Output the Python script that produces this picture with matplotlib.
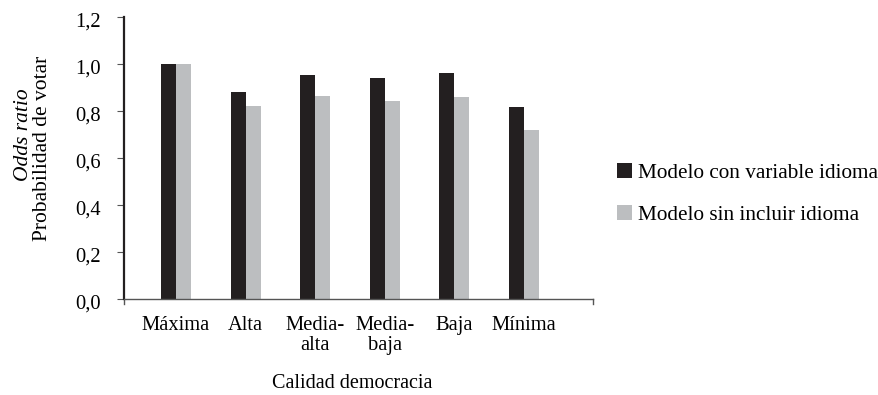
import matplotlib
matplotlib.use("Agg")
import matplotlib.pyplot as plt
import matplotlib.transforms as mtransforms
from matplotlib.patches import Patch
import numpy as np

categories = ["Máxima", "Alta", "Media-\nalta", "Media-\nbaja", "Baja", "Mínima"]
con_idioma = [1.00, 0.88, 0.953, 0.940, 0.962, 0.817]
sin_idioma = [1.00, 0.821, 0.864, 0.843, 0.860, 0.719]
series_labels = ["Modelo con variable idioma", "Modelo sin incluir idioma"]
yticks = [0.0, 0.2, 0.4, 0.6, 0.8, 1.0, 1.2]

dark = "#231f20"
light = "#bcbec0"

plt.rcParams["font.family"] = ["Liberation Serif", "DejaVu Serif"]

fig = plt.figure(figsize=(8.79, 3.95), dpi=100)
W, H = 879, 395
ax = fig.add_axes([124 / W, 1 - 299 / H, (593 - 124) / W, (299 - 17) / H])

x = np.arange(len(categories))
bw = 0.215
ax.bar(x - bw / 2, con_idioma, width=bw, color=dark)
ax.bar(x + bw / 2, sin_idioma, width=bw, color=light)

ax.set_xlim(-0.747, 5.99)
ax.set_ylim(0, 1.2)
ax.set_yticks(yticks)
ax.set_yticklabels([f"{v:.1f}".replace(".", ",") for v in yticks], fontsize=14.8)
ax.set_xticks(x)
ax.set_xticklabels(categories, fontsize=14.8, linespacing=1.1)
ax.tick_params(axis="x", length=0, pad=12)
ax.tick_params(axis="y", length=5, width=0.8, color="#555555", pad=12)

# nudge the value labels slightly below their ticks
shift = mtransforms.ScaledTranslation(0, -3 / 100, fig.dpi_scale_trans)
for lab in ax.get_yticklabels():
    lab.set_transform(lab.get_transform() + shift)

for s in ["top", "right"]:
    ax.spines[s].set_visible(False)
ax.spines["left"].set_linewidth(1.6)
ax.spines["left"].set_color(dark)
ax.spines["bottom"].set_linewidth(1.0)
ax.spines["bottom"].set_color("#555555")

# end ticks on the category axis
for xe in ax.get_xlim():
    ax.plot([xe, xe], [0, -0.02], color="#555555", lw=1.0, clip_on=False)

fig.text(352 / W, 1 - 383 / H, "Calidad democracia", ha="center", va="center", fontsize=14.5)
fig.text(24 / W, 1 - 135 / H, "Odds ratio", ha="center", va="center",
         rotation=90, fontsize=15.5, style="italic")
fig.text(43 / W, 1 - 148 / H, "Probabilidad de votar", ha="center", va="center",
         rotation=90, fontsize=15.5)

handles = [Patch(facecolor=dark), Patch(facecolor=light)]
fig.legend(handles, series_labels, loc="center left",
           bbox_to_anchor=(617 / W, 1 - 194 / H), frameon=False, fontsize=15.3,
           handlelength=0.72, handleheight=0.72, handletextpad=0.25,
           labelspacing=1.05, borderaxespad=0, borderpad=0)

fig.savefig("out.png", dpi=100)
